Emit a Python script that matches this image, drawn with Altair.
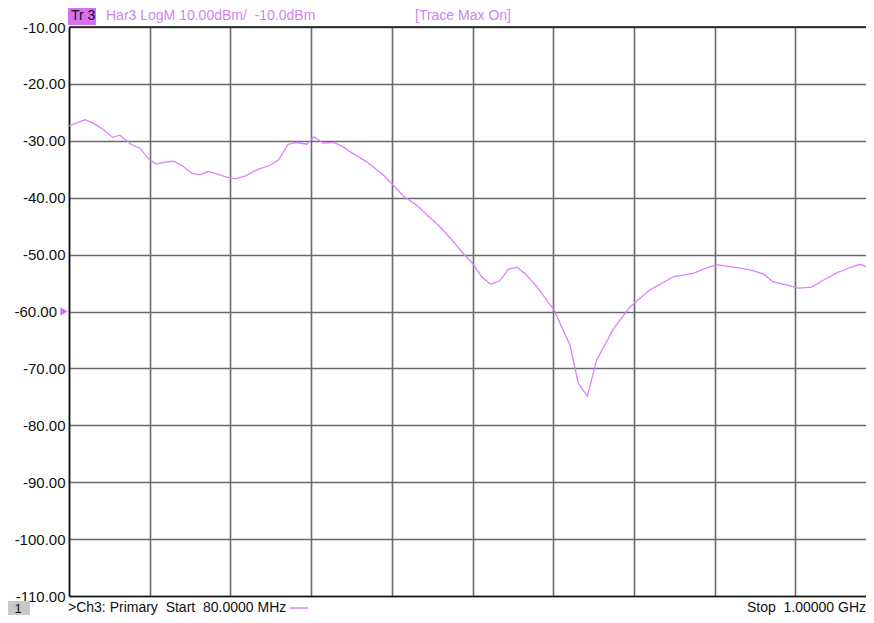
import altair as alt
import pandas as pd

# Trace data (frequency in MHz, level in dBm)
freq_mhz = [80.0, 98.2, 107.7, 119.1, 129.8, 138.1, 145.0, 151.5, 160.9, 171.5,
            180.0, 187.5, 198.9, 208.5, 219.9, 229.3, 238.8, 248.4, 259.8, 269.2,
            280.6, 294.0, 309.1, 318.6, 330.0, 339.6, 351.0, 359.3, 369.9, 381.3,
            390.9, 400.3, 419.4, 438.3, 447.9, 461.1, 476.4, 487.8, 502.9, 518.1,
            529.5, 540.9, 550.5, 560.7, 571.3, 580.8, 590.4, 599.8, 613.2, 624.6,
            632.9, 641.7, 651.1, 660.6, 670.9, 681.6, 700.5, 719.5, 742.3, 768.9,
            791.7, 810.7, 820.2, 837.3, 856.3, 871.5, 882.9, 898.2, 911.4, 926.7,
            939.9, 955.2, 968.4, 981.7, 997.7, 1000.0]
level_dbm = [-27.4, -26.3, -26.9, -28.0, -29.4, -29.0, -29.9, -30.7, -31.3, -33.3,
             -34.1, -33.8, -33.6, -34.3, -35.7, -36.0, -35.4, -35.8, -36.4, -36.7,
             -36.2, -35.1, -34.3, -33.4, -30.6, -30.3, -30.6, -29.3, -30.4, -30.3,
             -30.9, -31.9, -33.7, -36.0, -37.5, -39.7, -41.3, -43.0, -45.1, -47.7,
             -49.8, -51.7, -53.9, -55.2, -54.6, -52.6, -52.2, -53.3, -55.6, -58.0,
             -59.7, -62.7, -65.9, -72.6, -74.9, -68.5, -63.1, -59.2, -56.2, -53.9,
             -53.3, -52.1, -51.8, -52.2, -52.7, -53.4, -54.8, -55.3, -55.9, -55.7,
             -54.5, -53.2, -52.4, -51.7, -52.6, -52.8]

y_ticks = [-10, -20, -30, -40, -50, -60, -70, -80, -90, -100, -110]
x_grid = [80, 172, 264, 356, 448, 540, 632, 724, 816, 908, 1000]
ref_level = [-60]

NB = "\u00a0"
header_tr = "Tr 3"
header_info = "Har3 LogM 10.00dBm/" + NB + " -10.0dBm"
header_max = "[Trace Max On]"
footer_ch = ">Ch3: Primary" + NB + " Start" + NB + " 80.0000 MHz"
footer_stop = "Stop" + NB + " 1.00000 GHz"
footer_num = "1"

W, H = 797, 569
TRACE = "#dc80ff"
FONT = "Liberation Sans"

df = pd.DataFrame({"f": freq_mhz, "dbm": level_dbm})

x_scale = alt.Scale(domain=[80, 80 + 920 * W / 807], nice=False, zero=False)
y_scale = alt.Scale(domain=[-110, -10], nice=False, zero=False)

x_axis = alt.Axis(values=x_grid, labels=False, ticks=False, title=None,
                  grid=True, gridColor="#6a6a6a", gridWidth=1.6,
                  domain=True, domainColor="#111111", domainWidth=1.6)
y_axis = alt.Axis(values=y_ticks, ticks=False, title=None,
                  labelExpr="datum.value == -60 ? '' : '-' + format(-datum.value, '.2f')",
                  labelFont=FONT, labelFontSize=15, labelColor="#111111",
                  labelPadding=4, grid=True, gridColor="#6a6a6a", gridWidth=1.6,
                  domain=True, domainColor="#111111", domainWidth=1.6)

trace = alt.Chart(df).mark_line(color=TRACE, strokeWidth=1.3, clip=True).encode(
    x=alt.X("f:Q", scale=x_scale, axis=x_axis),
    y=alt.Y("dbm:Q", scale=y_scale, axis=y_axis),
)

top_border = alt.Chart(pd.DataFrame({"a": [0]})).mark_rule(
    color="#111111", strokeWidth=1.6).encode(
    x=alt.value(0), x2=alt.value(W), y=alt.value(0))

ref_df = pd.DataFrame({"v": ref_level, "t": ["-60.00"]})
ref_marker = alt.Chart(ref_df).mark_point(
    shape="triangle-right", filled=True, color="#d470f0", size=70, opacity=1).encode(
    x=alt.value(-5), y=alt.Y("v:Q", scale=y_scale))
ref_label = alt.Chart(ref_df).mark_text(
    align="right", baseline="middle", font=FONT, fontSize=15, color="#111111").encode(
    x=alt.value(-12), y=alt.Y("v:Q", scale=y_scale), text="t:N")

one = pd.DataFrame({"a": [0]})
tr_box = alt.Chart(one).mark_rect(color="#d670f0").encode(
    x=alt.value(-1), x2=alt.value(27), y=alt.value(-19), y2=alt.value(-2))
tr_text = alt.Chart(one).mark_text(
    align="left", baseline="middle", font=FONT, fontSize=14, color="#111111",
    text=header_tr).encode(x=alt.value(2), y=alt.value(-11))
info_text = alt.Chart(one).mark_text(
    align="left", baseline="middle", font=FONT, fontSize=14, color="#d084f0",
    text=header_info).encode(x=alt.value(37), y=alt.value(-11))
max_text = alt.Chart(one).mark_text(
    align="left", baseline="middle", font=FONT, fontSize=14, color="#d084f0",
    text=header_max).encode(x=alt.value(346), y=alt.value(-11))

FY = 581
num_box = alt.Chart(one).mark_rect(color="#c8c8c8").encode(
    x=alt.value(-61), x2=alt.value(-39), y=alt.value(574), y2=alt.value(588))
num_text = alt.Chart(one).mark_text(
    align="center", baseline="middle", font=FONT, fontSize=13, color="#111111",
    text=footer_num).encode(x=alt.value(-51), y=alt.value(581.5))
ch_text = alt.Chart(one).mark_text(
    align="left", baseline="middle", font=FONT, fontSize=14, color="#111111",
    text=footer_ch).encode(x=alt.value(-1), y=alt.value(FY))
ch_line = alt.Chart(one).mark_rule(color=TRACE, strokeWidth=1.5).encode(
    x=alt.value(221), x2=alt.value(239), y=alt.value(FY))
stop_text = alt.Chart(one).mark_text(
    align="right", baseline="middle", font=FONT, fontSize=14, color="#111111",
    text=footer_stop).encode(x=alt.value(W), y=alt.value(FY))

chart = alt.layer(
    trace, top_border, ref_marker, ref_label, tr_box, tr_text, info_text, max_text,
    num_box, num_text, ch_text, ch_line, stop_text
).properties(
    width=W, height=H,
    autosize=alt.AutoSizeParams(type="none"),
    padding={"left": 61, "top": 19, "right": 0, "bottom": 19},
    background="white",
).configure_view(stroke=None)

chart.save("out.html", embed_options={"renderer": "svg", "actions": False})
